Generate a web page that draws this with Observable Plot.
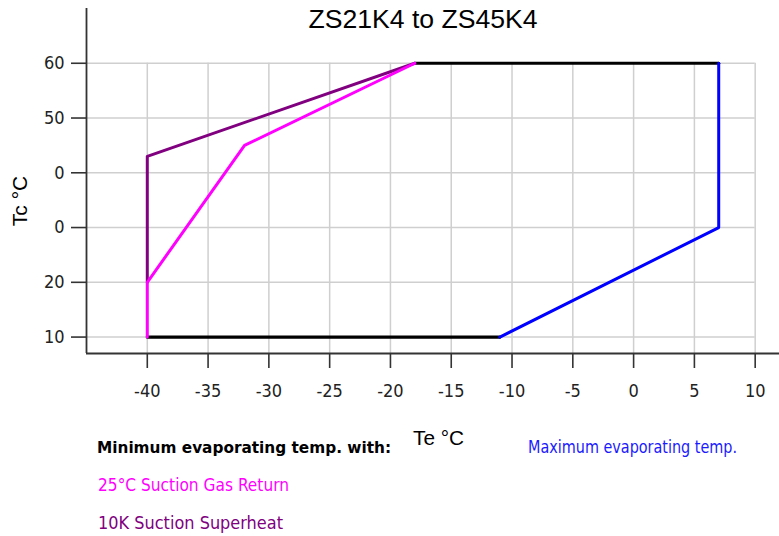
<!DOCTYPE html>
<html>
<head>
<meta charset="utf-8">
<script src="https://cdn.jsdelivr.net/npm/d3@7"></script>
<script src="https://cdn.jsdelivr.net/npm/@observablehq/plot@0.6"></script>
<style>
  html, body { margin: 0; padding: 0; background: #fff; }
  #wrap { position: relative; width: 779px; height: 536px; overflow: hidden; font-family: Arial, "Liberation Sans", sans-serif; }
  #chart { position: absolute; left: 0; top: 0; }
  #overlay { position: absolute; left: 0; top: 0; pointer-events: none; }
</style>
</head>
<body>
<div id="wrap">
  <div id="chart"></div>
  <svg id="overlay" width="779" height="536" xmlns="http://www.w3.org/2000/svg"></svg>
</div>
<script>
// ---- Data ----
const title = "ZS21K4 to ZS45K4";
const xLabel = "Te °C";
const yLabel = "Tc °C";

const xTicks = [-40, -35, -30, -25, -20, -15, -10, -5, 0, 5, 10];
const xTickLabels = ["-40", "-35", "-30", "-25", "-20", "-15", "-10", "-5", "0", "5", "10"];
const yTicks = [10, 20, 30, 40, 50, 60];
const yTickLabels = ["10", "20", "0", "0", "50", "60"]; // as shown (clipped) in the reference

// Envelope limits (black)
const bottomTe = [-40, -11];
const bottomTc = [10, 10];
const topTe = [-18, 7];
const topTc = [60, 60];

// Maximum evaporating temp. (blue)
const maxEvapTe = [-11, 7, 7];
const maxEvapTc = [10, 30, 60];

// 25°C Suction Gas Return (magenta)
const sgrTe = [-40, -40, -32, -18];
const sgrTc = [10, 20, 45, 60];

// 10K Suction Superheat (purple)
const shTe = [-40, -40, -18];
const shTc = [20, 43, 60];

const legendMin = "Minimum evaporating temp. with:";
const legendMax = "Maximum evaporating temp.";
const legendSGR = "25°C Suction Gas Return";
const legendSH = "10K Suction Superheat";

const xDomain = [-45, 12];
const yDomain = [7, 70];

// ---- Build tables ----
const toPts = (te, tc) => te.map((t, i) => ({te: t, tc: tc[i]}));
const bottomPts = toPts(bottomTe, bottomTc);
const topPts = toPts(topTe, topTc);
const maxPts = toPts(maxEvapTe, maxEvapTc);
const sgrPts = toPts(sgrTe, sgrTc);
const shPts = toPts(shTe, shTc);

const tickFont = `"Liberation Sans Narrow", "Arial Narrow", "DejaVu Sans Condensed", Arial, sans-serif`;

const chart = Plot.plot({
  width: 779,
  height: 420,
  marginLeft: 86,
  marginRight: 0,
  marginTop: 8,
  marginBottom: 67,
  style: {background: "transparent", fontFamily: tickFont, fontSize: "18px", color: "#222"},
  x: {domain: xDomain, label: null},
  y: {domain: yDomain, label: null},
  marks: [
    // gridlines
    Plot.ruleY(yTicks, {x1: xDomain[0], x2: 10, stroke: "#cfcfcf", strokeWidth: 1.5}),
    Plot.ruleX(xTicks, {y1: yDomain[0], y2: 60, stroke: "#cfcfcf", strokeWidth: 1.5}),
    // axes
    Plot.axisX(xTicks, {tickSize: 15, tickPadding: 16, tickFormat: (d, i) => xTickLabels[i], stroke: "#333", strokeWidth: 1.6, label: null, fontSize: 18}),
    Plot.axisY(yTicks, {tickSize: 15, tickPadding: 7, tickFormat: (d, i) => yTickLabels[i], stroke: "#333", strokeWidth: 1.6, label: null, fontSize: 18}),
    Plot.ruleX([xDomain[0]], {y1: yDomain[0], y2: yDomain[1], stroke: "#333", strokeWidth: 1.8}),
    Plot.ruleY([yDomain[0]], {x1: xDomain[0], x2: xDomain[1], stroke: "#333", strokeWidth: 1.8}),
    // envelope
    Plot.line(bottomPts, {x: "te", y: "tc", stroke: "black", strokeWidth: 3.2}),
    Plot.line(topPts, {x: "te", y: "tc", stroke: "black", strokeWidth: 3.2}),
    Plot.line(maxPts, {x: "te", y: "tc", stroke: "#0000ff", strokeWidth: 3}),
    Plot.line(shPts, {x: "te", y: "tc", stroke: "#800080", strokeWidth: 3}),
    Plot.line(sgrPts, {x: "te", y: "tc", stroke: "#ff00ff", strokeWidth: 3})
  ]
});
document.getElementById("chart").appendChild(chart);

// ---- Text overlay (title, axis labels, legend) ----
const ov = d3.select("#overlay");
ov.append("text").attr("x", 423).attr("y", 28).attr("text-anchor", "middle")
  .attr("font-family", "Arial, 'Liberation Sans', sans-serif").attr("font-size", 25).attr("fill", "#000")
  .attr("textLength", 229).attr("lengthAdjust", "spacingAndGlyphs").text(title);
ov.append("text").attr("transform", "translate(27,201) rotate(-90)").attr("text-anchor", "middle")
  .attr("font-family", "Arial, 'Liberation Sans', sans-serif").attr("font-size", 21).attr("fill", "#000")
  .text(yLabel);
ov.append("text").attr("x", 413).attr("y", 445)
  .attr("font-family", "Arial, 'Liberation Sans', sans-serif").attr("font-size", 20).attr("fill", "#000")
  .attr("textLength", 51).attr("lengthAdjust", "spacingAndGlyphs").text(xLabel);

const legFont = tickFont;
const leg = [
  {t: legendMin, x: 97, y: 453, len: 294, fill: "#000", bold: true, size: 16.5},
  {t: legendMax, x: 528, y: 453, len: 209, fill: "#1a1aff", bold: false, size: 18.5},
  {t: legendSGR, x: 98, y: 491, len: 191, fill: "#ff00ff", bold: false, size: 18.5},
  {t: legendSH, x: 98, y: 529, len: 185, fill: "#800080", bold: false, size: 18.5}
];
leg.forEach(d => {
  ov.append("text").attr("x", d.x).attr("y", d.y)
    .attr("font-family", legFont).attr("font-size", d.size)
    .attr("font-weight", d.bold ? "bold" : "normal").attr("fill", d.fill)
    .attr("textLength", d.len).attr("lengthAdjust", "spacingAndGlyphs").text(d.t);
});
</script>
</body>
</html>
